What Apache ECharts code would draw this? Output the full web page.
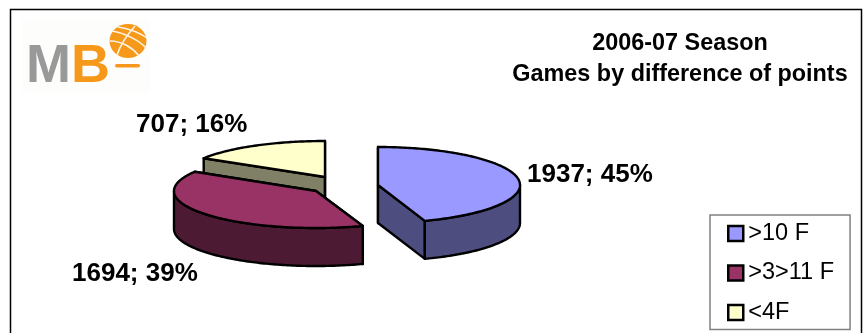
<!DOCTYPE html>
<html><head><meta charset="utf-8">
<style>html,body{margin:0;padding:0;background:#fff}#c{width:865px;height:333px}</style>
<script src="https://cdn.jsdelivr.net/npm/echarts@6/dist/echarts.min.js"></script>
</head><body><div id="c"></div>
<script>
const categories = ['>10 F', '>3>11 F', '<4F'];
const games = [1937, 1694, 707];
const percentLabels = [45, 39, 16];
const titleLines = ['2006-07 Season', 'Games by difference of points'];

const topColors = ['#9999FF', '#993366', '#FFFFCC'];
const sideColors = ['#4D4D80', '#4D1A33', '#808066'];
const centers = [[378, 185], [316, 191], [325, 177]];
const radiiY = [38, 37, 36];
const labelPos = [[527, 175], [72, 274], [136, 125]];
const RX = 142, DEPTH = 38;
const LABEL_FONT = 'bold 26px "Liberation Sans", Arial, sans-serif';

const total = games.reduce((a, b) => a + b, 0);
function startFraction(i) {
  let s = 0;
  for (let k = 0; k < i; k++) s += games[k];
  return s / total;
}
function pt(c, ry, deg, dy) {
  const r = deg * Math.PI / 180;
  return [c[0] + RX * Math.sin(r), c[1] - ry * Math.cos(r) + (dy || 0)];
}
function arc(c, ry, a0, a1, dy) {
  const out = [], n = Math.max(2, Math.ceil(Math.abs(a1 - a0)));
  for (let j = 0; j <= n; j++) out.push(pt(c, ry, a0 + (a1 - a0) * j / n, dy));
  return out;
}
const lineStyle = {stroke: '#000', lineWidth: 2.4, lineJoin: 'round'};

function sliceRenderer(i) {
  return function (params, api) {
    const value = api.value(0);
    const c = centers[i], ry = radiiY[i];
    const a0 = startFraction(i) * 360;
    const a1 = a0 + value / total * 360;
    const kids = [];
    const poly = (points, fill) => kids.push({type: 'polygon', shape: {points},
      style: Object.assign({fill}, lineStyle)});
    [a0, a1].forEach(a => {
      const p = pt(c, ry, a);
      poly([c, p, [p[0], p[1] + DEPTH], [c[0], c[1] + DEPTH]], sideColors[i]);
    });
    const w0 = Math.max(a0, 90), w1 = Math.min(a1, 270);
    if (w1 > w0) {
      poly(arc(c, ry, w0, w1, 0).concat(arc(c, ry, w1, w0, DEPTH)), sideColors[i]);
    }
    poly([c].concat(arc(c, ry, a0, a1, 0)), topColors[i]);
    kids.push({type: 'text', style: {
      text: value + '; ' + percentLabels[i] + '%',
      x: labelPos[i][0], y: labelPos[i][1], font: LABEL_FONT, fill: '#000',
      align: 'left', verticalAlign: 'middle'}});
    return {type: 'group', children: kids};
  };
}

const series = [2, 1, 0].map(i => ({
  type: 'custom', name: categories[i], coordinateSystem: 'none', silent: true,
  itemStyle: {color: topColors[i]},
  data: [[games[i]]],
  renderItem: sliceRenderer(i), z: 3 - i
}));

const ORANGE = '#F6991B';
const logo = [
  {type: 'rect', shape: {x: 22, y: 20, width: 128, height: 72}, style: {fill: '#FDFDFB'}},
  {type: 'text', style: {text: 'M', x: 26, y: 67, font: 'bold 54px "Liberation Sans"', fill: '#999999', verticalAlign: 'middle'}},
  {type: 'text', style: {text: 'B', x: 71, y: 67, font: 'bold 54px "Liberation Sans"', fill: ORANGE, verticalAlign: 'middle'}},
  {type: 'ellipse', shape: {cx: 128, cy: 41, rx: 18.5, ry: 17}, style: {fill: ORANGE}},
  {type: 'bezierCurve', shape: {x1: 112, y1: 31, x2: 146, y2: 48, cpx1: 125, cpy1: 33, cpx2: 140, cpy2: 41}, style: {stroke: '#FFF3DF', lineWidth: 1.6, fill: null}},
  {type: 'bezierCurve', shape: {x1: 110, y1: 41, x2: 139, y2: 56, cpx1: 122, cpy1: 41, cpx2: 133, cpy2: 48}, style: {stroke: '#FFF3DF', lineWidth: 1.6, fill: null}},
  {type: 'bezierCurve', shape: {x1: 118, y1: 27, x2: 147, y2: 38, cpx1: 130, cpy1: 29, cpx2: 140, cpy2: 33}, style: {stroke: '#FFF3DF', lineWidth: 1.4, fill: null}},
  {type: 'bezierCurve', shape: {x1: 135, y1: 26, x2: 117, y2: 55, cpx1: 126, cpy1: 36, cpx2: 120, cpy2: 46}, style: {stroke: '#FFF3DF', lineWidth: 1.6, fill: null}},
  {type: 'rect', shape: {x: 115, y: 64, width: 25, height: 3.5, r: 1.7}, style: {fill: ORANGE}}
];

const chart = echarts.init(document.getElementById('c'), null, {renderer: 'canvas'});
chart.setOption({
  animation: false,
  backgroundColor: '#fff',
  title: {
    text: titleLines.join('\n'), left: 675, top: 23, textAlign: 'center',
    textStyle: {fontFamily: '"Liberation Sans", Arial, sans-serif', fontWeight: 'bold', fontSize: 23.4, lineHeight: 31, color: '#000'}
  },
  legend: {
    orient: 'vertical', left: 710, top: 215, height: 300, icon: 'rect', selectedMode: false,
    data: categories, itemWidth: 15, itemHeight: 15, itemGap: 15.5, align: 'left',
    padding: [6.5, 16, 5, 17], backgroundColor: '#fff', borderColor: '#808080', borderWidth: 1.5,
    itemStyle: {borderColor: '#000', borderWidth: 2.5},
    textStyle: {fontFamily: '"Liberation Sans", Arial, sans-serif', fontSize: 23.5, color: '#000'}
  },
  graphic: [
    {type: 'rect', z: 0, silent: true, shape: {x: 10.5, y: 9.5, width: 851, height: 340}, style: {fill: 'none', stroke: '#000', lineWidth: 1.5}},
    {type: 'group', silent: true, children: logo}
  ],
  series
});
</script></body></html>
